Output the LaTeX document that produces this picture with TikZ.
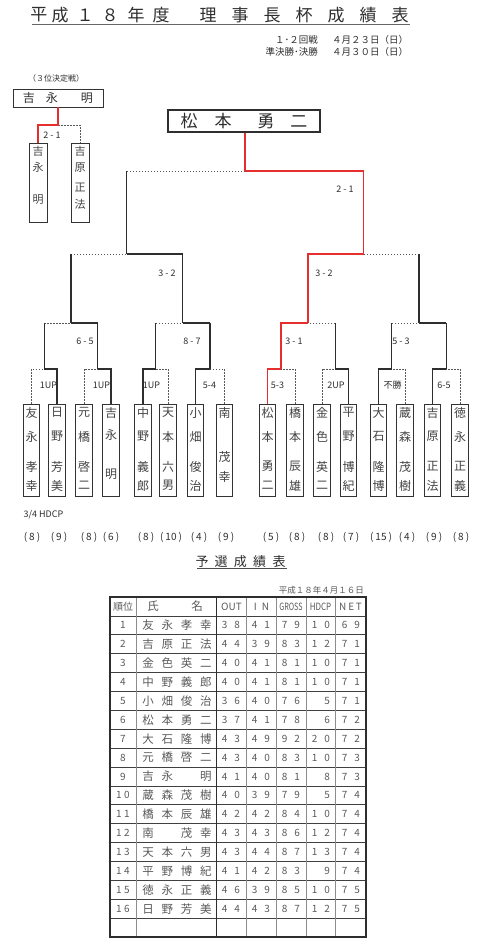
\documentclass[tikz,border=0pt]{standalone}
\usepackage{fontspec}
\usepackage{graphicx}
\setmainfont{Noto Sans CJK JP}
\usetikzlibrary{calc}
\definecolor{rd}{HTML}{E62E2D}
\definecolor{ink}{HTML}{2E2E2E}
\definecolor{tink}{HTML}{5A5A5A}
\newcommand\tdd[2]{\makebox[12.5pt]{#1}\makebox[12.5pt]{#2}}
\newcommand\tddr[2]{\makebox[8pt]{#1}\makebox[8pt]{#2}}
\newcommand\tnm[4]{\makebox[19.2pt]{#1}\makebox[19.2pt]{#2}\makebox[19.2pt]{#3}\makebox[19.2pt]{#4}}
\def\rh{18.889}
\newcommand\tabrow[7]{%
  \node[tt] (r#1-0) at (123,{-597-(#1+0.5)*\rh}) {\ifnum#1<10 #1\else\tddr#1\fi};
  \node[tn] (r#1-1) at (177,{-597-(#1+0.5)*\rh}) {\tnm#2};
  \node[tt] (r#1-2) at (231,{-597-(#1+0.5)*\rh}) {\tdd#3};
  \node[tt] (r#1-3) at (261,{-597-(#1+0.5)*\rh}) {\tdd#4};
  \node[tt] (r#1-4) at (291,{-597-(#1+0.5)*\rh}) {\tdd#5};
  \node[tt] (r#1-5) at (321,{-597-(#1+0.5)*\rh}) {\tdd#6};
  \node[tt] (r#1-6) at (351,{-597-(#1+0.5)*\rh}) {\tdd#7};
}
\newcommand\plbox[3]{%
  \node[pbx] (#1) at (#2,-450) {};
  \foreach \c/\o [count=\i] in {#3} \node[pch] (#1-\i) at ([yshift=-\o]#1.north) {\c};
}
\newcommand\uplink[3]{\draw[#3] (#1 |- #2) -- (#2); \draw[win] (#1) -- (#1 |- #2);}
\begin{document}
\begin{tikzpicture}[x=1pt,y=1pt,
  win/.style={draw=ink,line width=1.2pt},
  lose/.style={draw=black!65,line width=0.75pt,dash pattern=on 1.5pt off 1.5pt},
  redw/.style={draw=rd,line width=1.7pt},
  pbx/.style={draw=black!80,line width=0.8pt,minimum width=16.5pt,minimum height=92pt,inner sep=0pt},
  tbx/.style={draw=black!80,line width=0.8pt,minimum width=18pt,minimum height=79pt,inner sep=0pt},
  pch/.style={font=\fontsize{12}{12}\selectfont,inner sep=0pt,text=ink!90},
  lab/.style={font=\fontsize{9}{9}\selectfont,inner sep=0pt,text=ink},
  hc/.style={font=\fontsize{10}{10}\selectfont,inner sep=0pt,text=ink},
  tt/.style={font=\fontsize{10}{10}\selectfont,inner sep=0pt,text=tink},
  tn/.style={font=\fontsize{11.5}{11.5}\selectfont,inner sep=0pt,text=tink},
  sub/.style={font=\fontsize{9.5}{9.5}\selectfont,inner sep=0pt,text=ink},
]
\useasboundingbox (0,0) rectangle (486,-950);
\fill[white] (0,0) rectangle (486,-950);

% title
\foreach \c/\x [count=\i] in {平/39,成/60,１/85,８/110,年/136,度/161,理/208,事/240,長/272,杯/304,成/336,績/368,表/400}
  \node[font=\fontsize{17}{17}\selectfont,inner sep=0pt,text=ink] (ti\i) at (\x,-15) {\c};
\draw[black!60,line width=0.9pt] (32,-24) -- (410,-24);
\node[sub,anchor=east] (s1a) at (318,-40) {１･２回戦};
\node[sub,anchor=west] (s1b) at (332,-40) {４月２３日（日）};
\node[sub,anchor=east] (s2a) at (318,-52) {準決勝･決勝};
\node[sub,anchor=west] (s2b) at (332,-52) {４月３０日（日）};

% third place
\node[font=\fontsize{8}{8}\selectfont,inner sep=0pt,text=ink] (third) at (56,-78) {（３位決定戦）};
\node[draw=black!80,line width=0.8pt,minimum width=90pt,minimum height=18pt,inner sep=0pt,font=\fontsize{12}{12}\selectfont,text=ink] (t0) at (58,-98) {吉\hspace{11pt}永\hspace{23pt}明};
\node[tbx] (t1) at (38,-182.5) {};
\foreach \c/\o [count=\i] in {吉/9,永/25,明/57} \node[pch,font=\fontsize{11}{11}\selectfont] (t1-\i) at ([yshift=-\o]t1.north) {\c};
\node[tbx] (t2) at (80,-182.5) {};
\foreach \c/\o [count=\i] in {吉/9,原/25,正/45,法/62} \node[pch,font=\fontsize{11}{11}\selectfont] (t2-\i) at ([yshift=-\o]t2.north) {\c};
\coordinate (tm) at (58,-125);
\draw[lose] (tm) -| (t2.north);
\draw[redw] (t0.south) -- (tm) -| (t1.north);
\node[lab] (tl) at (52,-135) {2 - 1};

% champion
\node[draw=ink,line width=1.8pt,minimum width=152pt,minimum height=22.5pt,inner sep=0pt,font=\fontsize{17}{17}\selectfont,text=ink] (champ) at (244,-121) {松\hspace{17pt}本\hspace{26pt}勇\hspace{16pt}二};

% players
\plbox{p1}{31.5}{友/9,永/33,孝/63,幸/82}
\plbox{p2}{57}{日/9,野/33,芳/63,美/82}
\plbox{p3}{84}{元/9,橋/33,啓/63,二/82}
\plbox{p4}{111}{吉/9,永/31,明/71}
\plbox{p5}{143}{中/9,野/33,義/63,郎/82}
\plbox{p6}{168}{天/9,本/33,六/63,男/82}
\plbox{p7}{195.5}{小/9,畑/33,俊/63,治/82}
\plbox{p8}{224.5}{南/9,茂/53,幸/73}
\plbox{p9}{267.5}{松/9,本/33,勇/63,二/82}
\plbox{p10}{295}{橋/9,本/33,辰/63,雄/82}
\plbox{p11}{322}{金/9,色/33,英/63,二/82}
\plbox{p12}{348.5}{平/9,野/33,博/63,紀/82}
\plbox{p13}{378.5}{大/9,石/33,隆/63,博/82}
\plbox{p14}{405}{蔵/9,森/33,茂/63,樹/82}
\plbox{p15}{432.5}{吉/9,原/33,正/63,法/82}
\plbox{p16}{460}{徳/9,永/33,正/63,義/82}

% match points
\coordinate (m1) at (44.25,-369);
\coordinate (m2) at (97.5,-369);
\coordinate (m3) at (155.5,-369);
\coordinate (m4) at (210,-369);
\coordinate (m5) at (281.25,-369);
\coordinate (m6) at (335.25,-369);
\coordinate (m7) at (391.75,-369);
\coordinate (m8) at (446.25,-369);
\coordinate (q1) at (70.9,-323);
\coordinate (q2) at (182.75,-323);
\coordinate (q3) at (308.25,-323);
\coordinate (q4) at (419,-323);
\coordinate (s1) at (126.8,-254);
\coordinate (s2) at (363.6,-254);
\coordinate (f) at (245.2,-171);

% losers
\draw[lose] (p1.north) |- (m1);
\draw[lose] (p3.north) |- (m2);
\draw[lose] (p6.north) |- (m3);
\draw[lose] (p8.north) |- (m4);
\draw[lose] (p10.north) |- (m5);
\draw[lose] (p11.north) |- (m6);
\draw[lose] (p14.north) |- (m7);
\draw[lose] (p16.north) |- (m8);
% winners
\draw[win] (p2.north) |- (m1);
\draw[win] (p4.north) |- (m2);
\draw[win] (p5.north) |- (m3);
\draw[win] (p7.north) |- (m4);
\draw[win] (p12.north) |- (m6);
\draw[win] (p13.north) |- (m7);
\draw[win] (p15.north) |- (m8);
\uplink{m1}{q1}{lose}
\uplink{m2}{q1}{win}
\uplink{m3}{q2}{lose}
\uplink{m4}{q2}{win}
\uplink{m6}{q3}{lose}
\uplink{m7}{q4}{lose}
\uplink{m8}{q4}{win}
\uplink{q1}{s1}{lose}
\uplink{q2}{s1}{win}
\uplink{q4}{s2}{lose}
\uplink{s1}{f}{lose}
% champion path
\draw[redw] (p9.north) |- (m5);
\draw[redw] (m5) |- (q3);
\draw[redw] (q3) |- (s2);
\draw[redw] (s2) |- (f);
\draw[redw] (f) -- (f |- champ.south);

% score labels
\node[lab] (l1) at (48.5,-385) {1UP};
\node[lab] (l2) at (101.5,-385) {1UP};
\node[lab] (l3) at (151.5,-385) {1UP};
\node[lab] (l4) at (209.5,-385) {5-4};
\node[lab] (l5) at (277.5,-385) {5-3};
\node[lab] (l6) at (336,-385) {2UP};
\node[lab] (l7) at (392.5,-385) {不勝};
\node[lab] (l8) at (444,-385) {6-5};
\node[lab] (l9) at (85,-341) {6 - 5};
\node[lab] (l10) at (192,-341) {8 - 7};
\node[lab] (l11) at (294,-341) {3 - 1};
\node[lab] (l12) at (401,-341) {5 - 3};
\node[lab] (l13) at (167,-273) {3 - 2};
\node[lab] (l14) at (324,-273) {3 - 2};
\node[lab] (l15) at (345,-189) {2 - 1};

% handicaps
\node[font=\fontsize{9}{9}\selectfont,inner sep=0pt,text=ink] (hdcp) at (43.5,-515) {3/4 HDCP};
\foreach \x/\v [count=\i] in {32/8,59/9,89/8,111/6,146/8,171/10,199/4,226/9,271/5,297/8,326/8,351/7,381/15,407/4,434/9,461/8}
  \node[hc] (h\i) at (\x,-537) {(\hspace{2pt}\v\hspace{2pt})};

% qualifying table
\node[font=\fontsize{13}{13}\selectfont,inner sep=0pt,text=ink] (ttl) at (240.5,-562) {\makebox[19.25pt]{予}\makebox[19.25pt]{選}\makebox[19.25pt]{成}\makebox[19.25pt]{績}\makebox[19.25pt]{表}};
\draw[black!70,line width=0.8pt] (197,-568.5) -- (287,-568.5);
\node[font=\fontsize{8.5}{8.5}\selectfont,inner sep=0pt,text=tink,anchor=east] (tdate) at (364,-590) {平成１８年４月１６日};

\foreach \k in {1,...,17} \draw[black!75,line width=0.6pt] (110,{-597-\k*\rh}) -- (366,{-597-\k*\rh});
\foreach \x in {136,246,276,306,335} \draw[black!45,line width=0.45pt] (\x,-597) -- (\x,-937);
\draw[ink,line width=1pt] (216,-597) -- (216,-937);
\draw[ink,line width=1.3pt] (110,-597) rectangle (366,-937);

\node[tt] (hd0) at (123,{-597-0.5*\rh}) {順位};
\node[tn] (hd1a) at (153,{-597-0.5*\rh}) {氏};
\node[tn] (hd1b) at (197,{-597-0.5*\rh}) {名};
\node[tt] (hd2) at (231.5,{-597-0.5*\rh}) {OUT};
\node[tt] (hd3) at (261.5,{-597-0.5*\rh}) {I\hspace{5pt}N};
\node[tt] (hd4) at (291,{-597-0.5*\rh}) {\scalebox{0.72}[1]{GROSS}};
\node[tt] (hd5) at (320.5,{-597-0.5*\rh}) {\scalebox{0.8}[1]{HDCP}};
\node[tt] (hd6) at (350.5,{-597-0.5*\rh}) {N\hspace{2pt}E\hspace{1.5pt}T};

\tabrow{1}{{友}{永}{孝}{幸}}{38}{41}{79}{10}{69}
\tabrow{2}{{吉}{原}{正}{法}}{44}{39}{83}{12}{71}
\tabrow{3}{{金}{色}{英}{二}}{40}{41}{81}{10}{71}
\tabrow{4}{{中}{野}{義}{郎}}{40}{41}{81}{10}{71}
\tabrow{5}{{小}{畑}{俊}{治}}{36}{40}{76}{{}5}{71}
\tabrow{6}{{松}{本}{勇}{二}}{37}{41}{78}{{}6}{72}
\tabrow{7}{{大}{石}{隆}{博}}{43}{49}{92}{20}{72}
\tabrow{8}{{元}{橋}{啓}{二}}{43}{40}{83}{10}{73}
\tabrow{9}{{吉}{永}{}{明}}{41}{40}{81}{{}8}{73}
\tabrow{10}{{蔵}{森}{茂}{樹}}{40}{39}{79}{{}5}{74}
\tabrow{11}{{橋}{本}{辰}{雄}}{42}{42}{84}{10}{74}
\tabrow{12}{{南}{}{茂}{幸}}{43}{43}{86}{12}{74}
\tabrow{13}{{天}{本}{六}{男}}{43}{44}{87}{13}{74}
\tabrow{14}{{平}{野}{博}{紀}}{41}{42}{83}{{}9}{74}
\tabrow{15}{{徳}{永}{正}{義}}{46}{39}{85}{10}{75}
\tabrow{16}{{日}{野}{芳}{美}}{44}{43}{87}{12}{75}
\end{tikzpicture}
\end{document}
